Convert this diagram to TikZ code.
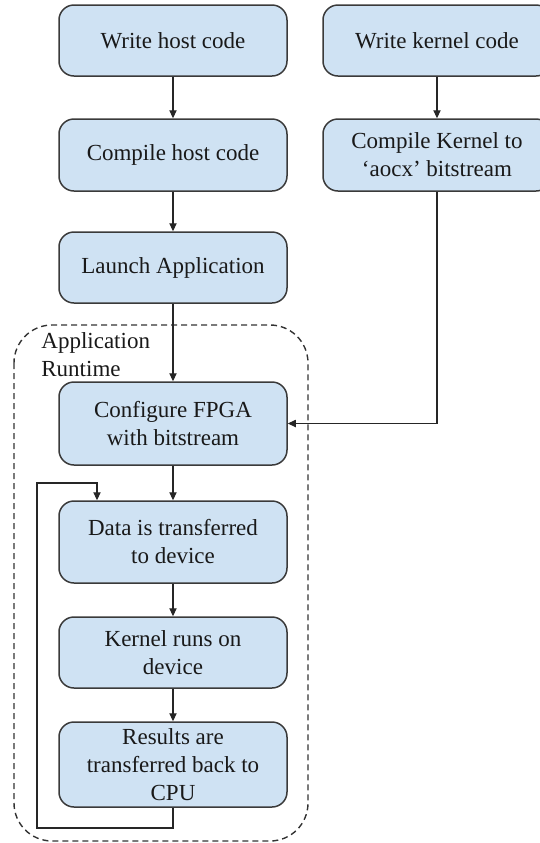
\documentclass[tikz,border=0pt]{standalone}
\usepackage{fontspec}
\setmainfont{Liberation Serif}
\usetikzlibrary{arrows.meta}
\definecolor{boxfill}{HTML}{CFE2F3}
\definecolor{boxline}{HTML}{3A3A3A}

\begin{document}
\begin{tikzpicture}[x=0.5pt,y=-0.5pt,
    flow/.style={draw=black!85,line width=0.55pt,-{Triangle[length=4pt,width=3.6pt]}}]

        \useasboundingbox (0,0) rectangle (540,843);

        % runtime region
        \draw[black!80,line width=0.7pt,dash pattern=on 3pt off 2pt,rounded corners=19pt]
          (14,325) rectangle (308,841);
        \node[anchor=north west,inner sep=0pt,align=left,text=black!90,
          font=\fontsize{11.5}{14}\selectfont] (runtime) at (41,332) {Application\\Runtime};

        \begin{scope}[every node/.style={draw=boxline,fill=boxfill,rounded corners=7.5pt,
            line width=0.75pt,minimum width=114pt,inner sep=1pt,align=center,
            text=black!90,font=\fontsize{11.5}{14}\selectfont}]
          \node[minimum height=35.5pt] (hostw)   at (173,40.5)  {Write host code};
          \node[minimum height=36pt]   (hostc)   at (173,155)   {Compile host code};
          \node[minimum height=35.5pt] (launch)  at (173,267.5) {Launch Application};
          \node[minimum height=35.5pt] (kernw)   at (437,40.5)  {Write kernel code};
          \node[minimum height=36pt]   (kernc)   at (437,155)   {Compile Kernel to\\‘aocx’ bitstream};
          \node[minimum height=41.5pt] (config)  at (173,423.5) {Configure FPGA\\with bitstream};
          \node[minimum height=41pt]   (data)    at (173,542)   {Data is transferred\\to device};
          \node[minimum height=35.5pt] (krun)    at (173,652.5) {Kernel runs on\\device};
          \node[minimum height=42.5pt] (results) at (173,764.5) {Results are\\transferred back to\\CPU};
        \end{scope}

        \coordinate (loopL) at (37,828);
        \coordinate (loopT) at (97,483);

        \begin{scope}[every edge/.style={flow}]
          \path (hostw)  edge (hostc);
          \path (hostc)  edge (launch);
          \path (launch) edge (config);
          \path (kernw)  edge (kernc);
          \path (config) edge (data);
          \path (data)   edge (krun);
          \path (krun)   edge (results);
        \end{scope}

        \draw[flow] (kernc.south) |- (config.east);
        \draw[flow] (results.south) |- (loopL) |- (loopT) -- (loopT |- data.north);

      \end{tikzpicture}
\end{document}
